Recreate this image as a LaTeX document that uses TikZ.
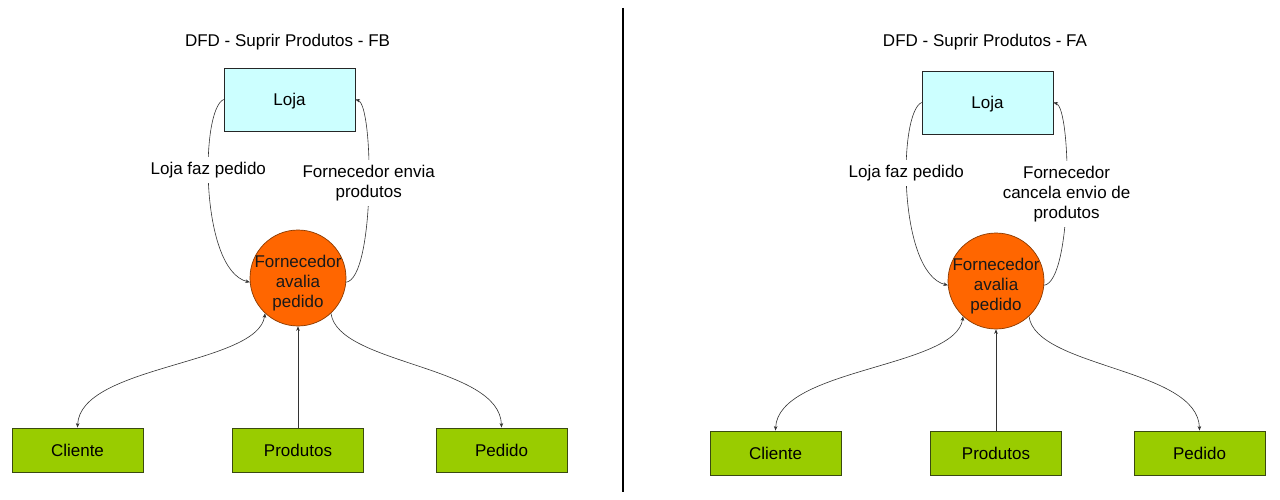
\documentclass[tikz,border=0pt]{standalone}
\usepackage{fontspec}
\setmainfont{Liberation Sans}
\usetikzlibrary{arrows.meta}
\definecolor{lojafill}{HTML}{CCFFFF}
\definecolor{procfill}{HTML}{FF6600}
\definecolor{procdraw}{HTML}{8A3A00}
\definecolor{entfill}{HTML}{99CC00}
\definecolor{entdraw}{HTML}{3A4A10}
\begin{document}
\begin{tikzpicture}[x=1pt,y=-1pt,
  every node/.style={font=\fontsize{17}{20}\selectfont, inner sep=0pt, align=center},
  titlebox/.style={},
  lojabox/.style={draw=black!85, line width=0.8pt, fill=lojafill, minimum width=131pt, minimum height=63pt, text height=12pt, text depth=0pt},
  procbox/.style={circle, draw=procdraw, line width=0.7pt, fill=procfill, minimum size=96pt},
  proctext/.style={text=black!90},
  entbox/.style={draw=entdraw, line width=0.9pt, fill=entfill, minimum width=131pt, minimum height=44pt, text height=12pt, text depth=0pt},
  lbl/.style={fill=white, inner sep=5pt},
  flow/.style={draw=black!80, line width=0.6pt, -{Stealth[length=4.5pt,width=3.6pt]}},
  bflow/.style={draw=black!80, line width=0.6pt, {Stealth[length=4.5pt,width=3.6pt]}-{Stealth[length=4.5pt,width=3.6pt]}}
]
\useasboundingbox (0,0) rectangle (1280,500);
\fill[white] (0,0) rectangle (1280,500);

% divider
\coordinate (dtop) at (623,8);
\coordinate (dbot) at (623,492);
\draw[line width=1.8pt, black] (dtop) -- (dbot);

% titles
\node[titlebox] (Ltitle) at (287.5,42) {DFD - Suprir Produtos - FB};
\node[titlebox] (Rtitle) at (985,42) {DFD - Suprir Produtos - FA};

% left diagram
\begin{scope}
\node[lojabox] (Lloja) at (289.5,99.5) {Loja};
\node[procbox] (Lproc) at (298,278) {};
\node[proctext] (Lproctxt) at (298,283) {Fornecedor\\avalia\\pedido};
\node[entbox] (Lcli) at (77.5,450) {Cliente};
\node[entbox] (Lprod) at (298,450) {Produtos};
\node[entbox] (Lped) at (501.5,450) {Pedido};
\draw[flow] (Lloja.west) .. controls (200,110) and (200,270) .. (Lproc.185)
  node[pos=0.42, lbl] (Llbl1) {Loja faz pedido};
\draw[flow] (Lproc.355) .. controls (375,278) and (374,105) .. (Lloja.east)
  node[pos=0.53, lbl] (Llbl2) {Fornecedor envia\\produtos};
\draw[bflow] (Lproc.227) .. controls (258,365) and (80,365) .. (Lcli.north);
\draw[flow] (Lprod.north) -- (Lproc.south);
\draw[flow] (Lproc.313) .. controls (338,365) and (500,365) .. (Lped.north);
\end{scope}

% right diagram
\begin{scope}[shift={(698,3)}]
\node[lojabox] (Rloja) at (289.5,99.5) {Loja};
\node[procbox] (Rproc) at (298,278) {};
\node[proctext] (Rproctxt) at (298,283) {Fornecedor\\avalia\\pedido};
\node[entbox] (Rcli) at (77.5,450) {Cliente};
\node[entbox] (Rprod) at (298,450) {Produtos};
\node[entbox] (Rped) at (501.5,450) {Pedido};
\draw[flow] (Rloja.west) .. controls (200,110) and (200,270) .. (Rproc.185)
  node[pos=0.42, lbl] (Rlbl1) {Loja faz pedido};
\draw[flow] (Rproc.355) .. controls (375,278) and (374,105) .. (Rloja.east)
  node[pos=0.5, lbl] (Rlbl2) {Fornecedor\\cancela envio de\\produtos};
\draw[bflow] (Rproc.227) .. controls (258,365) and (80,365) .. (Rcli.north);
\draw[flow] (Rprod.north) -- (Rproc.south);
\draw[flow] (Rproc.313) .. controls (338,365) and (500,365) .. (Rped.north);
\end{scope}
\end{tikzpicture}
\end{document}
